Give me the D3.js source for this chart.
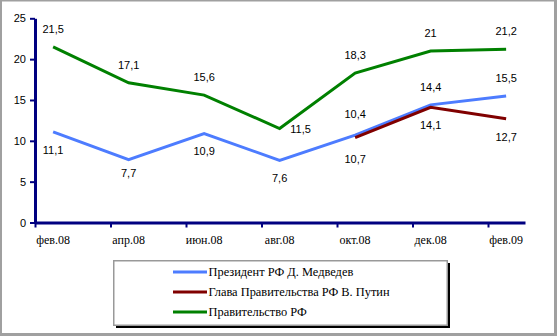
<!DOCTYPE html>
<html><head><meta charset="utf-8">
<script src="https://cdn.jsdelivr.net/npm/d3@7"></script>
<style>html,body{margin:0;padding:0;background:#fff;}svg{display:block;}
</style>
</head><body>
<script>
const categories = ["фев.08","апр.08","июн.08","авг.08","окт.08","дек.08","фев.09"];
const medvedev = [11.1, 7.7, 10.9, 7.6, 10.7, 14.4, 15.5];
const putin = [null, null, null, null, 10.4, 14.1, 12.7];
const government = [21.5, 17.1, 15.6, 11.5, 18.3, 21, 21.2];
const yTicks = [0, 5, 10, 15, 20, 25];
const seriesNames = ["Президент РФ Д. Медведев", "Глава Правительства РФ В. Путин", "Правительство РФ"];
const seriesColors = ["#4d7cff", "#800000", "#008000"];
const medvedevLabelPos = ["below","below","below","below","below","above","above"];
const putinLabelPos = [null,null,null,null,"above","below","below"];
const governmentLabelPos = ["above","above","above","right","above","above","above"];

const SERIF = "Liberation Serif";
const SANS = "Liberation Sans";

const W = 557, H = 336;
const svg = d3.select("body").append("svg").attr("width", W).attr("height", H);
svg.append("rect").attr("width", W).attr("height", H).attr("fill", "#fff");
const frame = "#a0a0a0";
svg.append("rect").attr("x",0).attr("y",0).attr("width",W).attr("height",1.5).attr("fill",frame);
svg.append("rect").attr("x",0).attr("y",0).attr("width",2).attr("height",H).attr("fill",frame);
svg.append("rect").attr("x",W-3).attr("y",0).attr("width",3).attr("height",H).attr("fill",frame);
svg.append("rect").attr("x",0).attr("y",H-3).attr("width",W).attr("height",3).attr("fill",frame);

const x = d3.scaleLinear().domain([-0.24, 6.25]).range([35, 525]);
const y = d3.scaleLinear().domain([0, 25]).range([222.5, 18.3]);
const axisColor = "#000080";

const gy = svg.append("g").attr("transform", `translate(${x(-0.24)},0)`)
  .call(d3.axisLeft(y).tickValues(yTicks).tickSize(5).tickSizeOuter(0).tickPadding(4));
gy.select(".domain").attr("stroke", axisColor).attr("stroke-width", 3);
gy.selectAll(".tick line").attr("stroke", axisColor).attr("stroke-width", 2);
gy.attr("font-family", SANS).attr("font-size", 11);
gy.selectAll(".tick text").attr("fill","#000");

const tickPos = categories.map((c,i) => i - 0.24);
const gx = svg.append("g").attr("transform", `translate(0,${y(0)})`)
  .call(d3.axisBottom(x).tickValues(tickPos).tickSize(5).tickSizeOuter(0).tickFormat(""));
gx.select(".domain").attr("stroke", axisColor).attr("stroke-width", 3);
gx.selectAll(".tick line").attr("stroke", axisColor).attr("stroke-width", 2);
svg.append("g").selectAll("text").data(categories).join("text")
  .style("font-family", SERIF)
  .attr("x", (d,i) => x(i)).attr("y", 244)
  .attr("text-anchor","middle")
  .style("font-size","12px").attr("fill","#000").text(d => d);

const series = [
  {vals: medvedev, pos: medvedevLabelPos, color: seriesColors[0]},
  {vals: putin, pos: putinLabelPos, color: seriesColors[1]},
  {vals: government, pos: governmentLabelPos, color: seriesColors[2]}
];
const line = d3.line().defined(d => d != null).x((d,i) => x(i)).y(d => y(d));
[series[2], series[0], series[1]].forEach(s => {
  svg.append("path").datum(s.vals).attr("d", line)
    .attr("fill","none").attr("stroke", s.color).attr("stroke-width", 3)
    .attr("stroke-linejoin","miter");
});
const fmt = v => String(v).replace(".", ",");
const offsets = {above: {dx:0, dy:-14}, below: {dx:0, dy:22}, right: {dx:21, dy:4}};
const specialDy = {"0-4": 28, "1-4": -20, "0-1": 17};
series.forEach((s, si) => {
  s.vals.forEach((v, i) => {
    if (v == null) return;
    const o = offsets[s.pos[i]];
    const key = si + "-" + i;
    const dy = specialDy[key] !== undefined ? specialDy[key] : o.dy;
    svg.append("text").style("font-family", SANS).attr("x", x(i) + o.dx).attr("y", y(v) + dy)
      .attr("text-anchor","middle")
      .style("font-size","11px").attr("fill","#000").text(fmt(v));
  });
});

const lg = svg.append("g");
lg.append("rect").attr("x",116).attr("y",263).attr("width",334).attr("height",65).attr("fill","#000");
lg.append("rect").attr("x",113.75).attr("y",260.75).attr("width",333.5).attr("height",64.5)
  .attr("fill","#fff").attr("stroke","#999").attr("stroke-width",1.5);
seriesNames.forEach((n, i) => {
  const cy = 272 + i*20;
  lg.append("line").attr("x1",173).attr("x2",207).attr("y1",cy).attr("y2",cy)
    .attr("stroke", seriesColors[i]).attr("stroke-width",3);
  lg.append("text").style("font-family", SERIF).attr("x",208.5).attr("y",cy+4)
    .style("font-size","12.4px").attr("fill","#000").text(n);
});
</script>
</body></html>
